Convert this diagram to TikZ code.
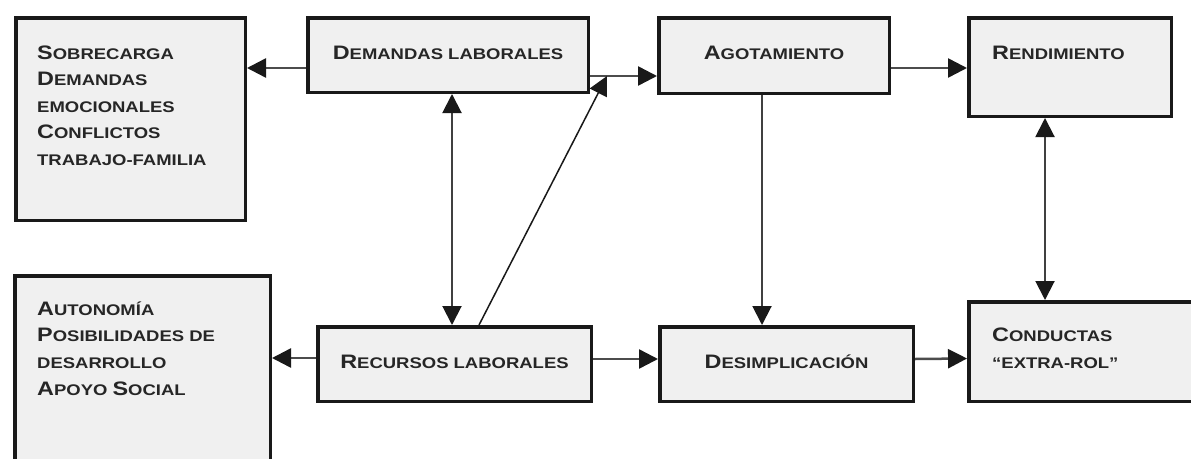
\documentclass[tikz,border=0pt]{standalone}
\usepackage{fontspec}
\newfontfamily\lsb{Liberation Sans}[FakeStretch=1.2]
\usetikzlibrary{arrows.meta}
\newcommand\Ca[1]{{\fontsize{19.5}{26.7}\selectfont #1}}
\tikzset{
  tri/.tip={Triangle[length=19pt,width=19pt,color=black!90]},
  box/.style={draw=black!90, line width=3.5pt, fill=black!6, inner sep=0pt},
  lbl/.style={inner sep=0pt, font=\lsb\bfseries\fontsize{15.4}{26.7}\selectfont, text=black!85},
  harr/.style={draw=black!70, line width=2.5pt, -tri},
  varr/.style={draw=black!75, line width=2pt, -tri},
  vdarr/.style={draw=black!75, line width=2pt, tri-tri},
  darr/.style={draw=black!90, line width=1.5pt, -tri}
}
\begin{document}
\begin{tikzpicture}[x=1pt,y=-1pt]
\useasboundingbox (0,0) rectangle (1191,458);
\fill[white] (0,0) rectangle (1191,458);
\clip (0,0) rectangle (1191,458);
% boxes
\node[box, minimum width=229.5pt, minimum height=202.5pt] (sob) at (130.5,119) {};
\node[box, minimum width=280.5pt, minimum height=74.5pt] (dem) at (448,55) {};
\node[box, minimum width=230.5pt, minimum height=75.5pt] (ago) at (774,55.5) {};
\node[box, minimum width=202.5pt, minimum height=98.5pt] (ren) at (1070,67) {};
\node[box, minimum width=255.5pt, minimum height=204pt] (aut) at (142.5,377.9) {};
\node[box, minimum width=273.5pt, minimum height=74.5pt] (rec) at (454.5,364) {};
\node[box, minimum width=253.5pt, minimum height=74.5pt] (des) at (786.5,364) {};
\node[box, minimum width=251.25pt, minimum height=99.5pt] (con) at (1094.4,351.5) {};
% labels
\node[lbl, anchor=base west] (sob1) at (37,59) {\Ca{S}OBRECARGA};
\node[lbl, anchor=base west] (sob2) at (37,85.5) {\Ca{D}EMANDAS};
\node[lbl, anchor=base west] (sob3) at (37,112) {EMOCIONALES};
\node[lbl, anchor=base west] (sob4) at (37,138.5) {\Ca{C}ONFLICTOS};
\node[lbl, anchor=base west] (sob5) at (37,165) {TRABAJO-FAMILIA};
\node[lbl, anchor=base] (demT) at (448,59) {\Ca{D}EMANDAS LABORALES};
\node[lbl, anchor=base] (agoT) at (774,59) {\Ca{A}GOTAMIENTO};
\node[lbl, anchor=base west] (renT) at (992,59) {\Ca{R}ENDIMIENTO};
\node[lbl, anchor=base west] (aut1) at (37,315) {\Ca{A}UTONOMÍA};
\node[lbl, anchor=base west] (aut2) at (37,341.7) {\Ca{P}OSIBILIDADES DE};
\node[lbl, anchor=base west] (aut3) at (37,368.4) {DESARROLLO};
\node[lbl, anchor=base west] (aut4) at (37,395) {\Ca{A}POYO \Ca{S}OCIAL};
\node[lbl, anchor=base] (recT) at (454.5,368) {\Ca{R}ECURSOS LABORALES};
\node[lbl, anchor=base] (desT) at (786.5,368) {\Ca{D}ESIMPLICACIÓN};
\node[lbl, anchor=base west] (con1) at (992,341.7) {\Ca{C}ONDUCTAS};
\node[lbl, anchor=base west] (con2) at (992,368) {“EXTRA-ROL”};
% connectors
\coordinate (dtip) at (607,76);
\draw[harr] ([yshift=-13pt]dem.west) -- ([yshift=51pt]sob.east);
\draw[harr] ([yshift=-21pt]dem.east) -- ([yshift=-20.5pt]ago.west);
\draw[harr] ([yshift=-12.5pt]ago.east) -- ([yshift=-1pt]ren.west);
\draw[vdarr] ([xshift=4pt]dem.south) -- ([xshift=-2.5pt]rec.north);
\draw[darr] ([xshift=24.5pt]rec.north) -- (dtip);
\draw[varr] ([xshift=-12pt]ago.south) -- ([xshift=-24.5pt]des.north);
\draw[vdarr] ([xshift=-25pt]ren.south) -- ([xshift=-49.4pt]con.north);
\draw[harr] ([yshift=6pt]rec.west) -- ([yshift=19.9pt]aut.east);
\draw[harr] ([yshift=5pt]rec.east) -- ([yshift=5pt]des.west);
\draw[harr] ([yshift=5pt]des.east) -- ([yshift=-7pt]con.west);
\end{tikzpicture}
\end{document}
